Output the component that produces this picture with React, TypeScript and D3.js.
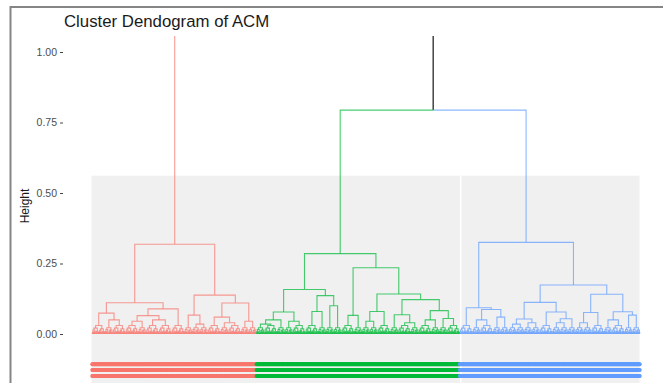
import { useEffect, useRef } from "react";
import * as d3 from "d3";

const title = "Cluster Dendogram of ACM";
const yLabel = "Height";
const yTicks = [0, 0.25, 0.5, 0.75, 1];
const clusterColors = ["#F8766D", "#00BA38", "#619CFF"];

// small leaf clumps at the bottom of the tree (x = one leaf)
const clumps: Record<string, string> = {
    S: "((((x,x):0.003,(x,x):0.005):0.009,(x,(x,x):0.002):0.006):0.016,(((x,x):0.004,(x,(x,x):0.003):0.007):0.011,(x,x):0.005):0.014):0.022",
    M: "(((((x,x):0.002,x):0.006,((x,x):0.004,(x,x):0.003):0.008):0.014,((x,(x,x):0.003):0.007,(x,x):0.005):0.01):0.021,((((x,x):0.005,x):0.008,(x,(x,x):0.002):0.006):0.012,((x,x):0.004,((x,x):0.003,x):0.006):0.009):0.018):0.03"
};

// one tree per cluster, merge heights
const clusterTrees = [
    "(((M,(S,M):0.05):0.074,(((M,S):0.045,(M,M):0.05):0.065,M):0.089):0.111,((S,(S,S):0.035):0.067,((M,(S,M):0.04):0.06,(S,S):0.045):0.11):0.138):0.318",
    "(((((S,M):0.035,S):0.05,(S,M):0.045):0.078,((M,S):0.08,(S,S):0.1):0.136):0.158,((M,S):0.066,(((S,S):0.045,M):0.08,((S,(M,S):0.04):0.068,((M,S):0.05,(S,M):0.055):0.083):0.122):0.142):0.235):0.285",
    "((M,((S,M):0.05,(S,S):0.06):0.087):0.093,((((S,S):0.035,(S,S):0.04):0.053,(M,((S,S):0.04,S):0.054):0.078):0.112,(((S,S):0.04,M):0.076,((S,M):0.05,(S,S):0.067):0.079):0.141):0.174):0.325"
];
// green+blue merge, then the top merge (cut off by the panel)
const topMerges = [0.794, 1.2];

type TreeNode = { h: number; children?: TreeNode[]; color?: string };

function parseTree(src: string): TreeNode {
    const s = src.replace(/[SM]/g, k => clumps[k]);
    let i = 0;
    function node(): TreeNode {
        if (s[i] === "(") {
            i++;
            const children = [node()];
            while (s[i] === ",") { i++; children.push(node()); }
            i += 2; // ')' and ':'
            const m = /^[0-9.]+/.exec(s.slice(i))!;
            i += m[0].length;
            return { h: +m[0], children };
        }
        i++;
        return { h: 0 };
    }
    return node();
}

function paint(n: TreeNode, color: string) {
    n.color = color;
    (n.children || []).forEach(c => paint(c, color));
}

const width = 663, height = 383;

export default function App() {
    const svgRef = useRef<SVGSVGElement>(null);

    useEffect(() => {
        const svg = d3.select(svgRef.current);
        svg.selectAll("*").remove();

        const trees = clusterTrees.map((t, i) => {
            const n = parseTree(t);
            paint(n, clusterColors[i]);
            return n;
        });
        const gb: TreeNode = { h: topMerges[0], children: [trees[1], trees[2]], color: "#000" };
        const rootData: TreeNode = { h: topMerges[1], children: [trees[0], gb], color: "#000" };

        const root = d3.hierarchy(rootData);
        d3.cluster<TreeNode>().size([1, 1]).separation(() => 1)(root);

        const xScale = d3.scaleLinear().domain([0, 1]).range([92, 640]);
        const yScale = d3.scaleLinear().domain([0, 1]).range([334, 52]);

        // frame of the screenshot
        svg.append("path")
            .attr("d", `M10.5,${height}V7H${width}`)
            .attr("fill", "none")
            .attr("stroke", "#858585")
            .attr("stroke-width", 2);

        svg.append("text")
            .attr("x", 64)
            .attr("y", 27)
            .attr("font-size", 16.8)
            .attr("fill", "#1a1a1a")
            .text(title);

        // grey band behind the lower part
        svg.append("rect")
            .attr("x", 91.5).attr("y", 175.7)
            .attr("width", 548).attr("height", height - 175.7)
            .attr("fill", "#f0f0f0");
        svg.append("line")
            .attr("x1", 460.7).attr("x2", 460.7)
            .attr("y1", 175.7).attr("y2", height)
            .attr("stroke", "#fff").attr("stroke-width", 1.5);

        const axis = svg.append("g")
            .attr("transform", "translate(63,0)")
            .call(d3.axisLeft(yScale).tickValues(yTicks).tickFormat(d3.format(".2f")).tickSize(3).tickPadding(3));
        axis.select(".domain").remove();
        axis.selectAll("line").attr("stroke", "#444");
        axis.selectAll("text")
            .attr("font-family", "Liberation Sans, Arial, sans-serif")
            .attr("font-size", 10.5)
            .attr("fill", "#4d4d4d");

        svg.append("text")
            .attr("transform", "translate(29,206) rotate(-90)")
            .attr("text-anchor", "middle")
            .attr("font-size", 12)
            .attr("fill", "#1a1a1a")
            .text(yLabel);

        svg.append("clipPath").attr("id", "panel")
            .append("rect").attr("x", 0).attr("y", 36).attr("width", width).attr("height", height);

        svg.append("g")
            .attr("clip-path", "url(#panel)")
            .selectAll("path")
            .data(root.descendants().filter(d => d.parent))
            .enter().append("path")
            .attr("d", d => `M${xScale(d.x!)},${yScale(d.data.h)}V${yScale(d.parent!.data.h)}H${xScale(d.parent!.x!)}`)
            .attr("fill", "none")
            .attr("stroke", d => d.data.color!)
            .attr("stroke-opacity", d => d.data.color === "#000" ? 1 : 0.72)
            .attr("stroke-width", 1.1);

        // leaf markers, three rows under the tree
        const rows = [364.2, 369.9, 376.1];
        const leaves = root.leaves();
        svg.append("g")
            .selectAll("g")
            .data(rows)
            .enter().append("g")
            .each(function (ry) {
                d3.select(this).selectAll("circle")
                    .data(leaves)
                    .enter().append("circle")
                    .attr("cx", d => xScale(d.x!))
                    .attr("cy", ry)
                    .attr("r", 2)
                    .attr("fill", d => d.data.color!);
            });
    }, []);

    return (
        <div style={{ position: "absolute", left: 0, top: 0 }}>
            <svg ref={svgRef} width={width} height={height}
                style={{ display: "block", background: "#fff", fontFamily: "Liberation Sans, Arial, sans-serif" }} />
        </div>
    );
}
